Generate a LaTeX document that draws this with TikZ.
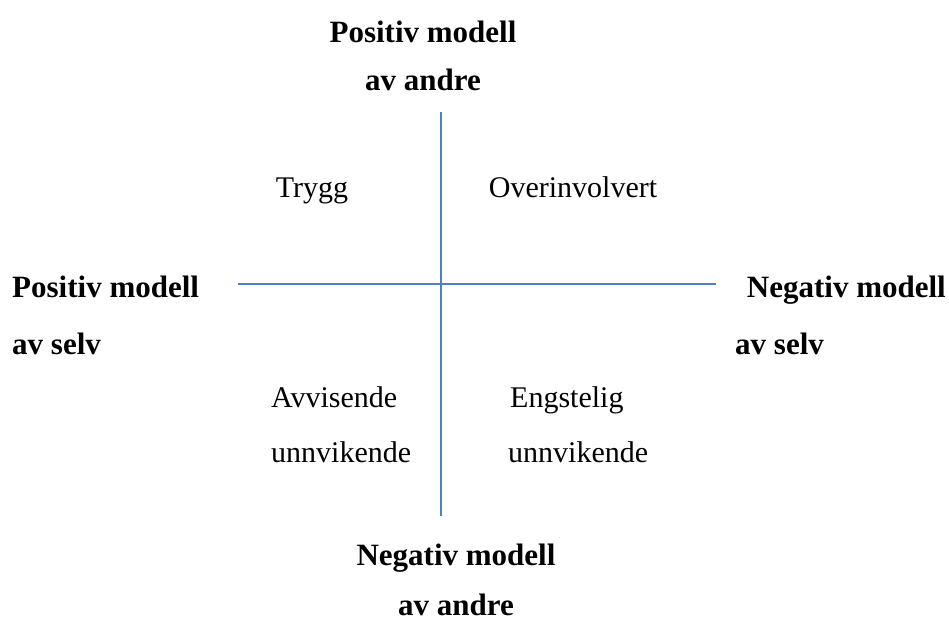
\documentclass[tikz,border=0pt]{standalone}
\usepackage{fontspec}
\setmainfont{Liberation Serif}
\usetikzlibrary{positioning}
\definecolor{axisblue}{RGB}{79,129,189}

\begin{document}
\begin{tikzpicture}[x=1pt,y=-1pt]
  \tikzset{
    axislab/.style={font=\fontsize{31}{37}\selectfont\bfseries,inner sep=0pt},
    quad/.style={font=\fontsize{30}{36}\selectfont,inner sep=0pt},
    axisline/.style={draw=axisblue,line width=1.6pt}
  }
  \useasboundingbox (0,0) rectangle (949,622);
  % axes
  \coordinate (vtop) at (441,112);
  \coordinate (vbot) at (441,516);
  \coordinate (hlft) at (238,284);
  \coordinate (hrgt) at (716,284);
  \draw[axisline] (vtop) -- (vbot);
  \draw[axisline] (hlft) -- (hrgt);
  % axis labels
  \node[axislab,anchor=base] (top1) at (423,42) {Positiv modell};
  \node[axislab,anchor=base] (top2) at (423,90) {av andre};
  \node[axislab,anchor=base west] (lft1) at (12,297) {Positiv modell};
  \node[axislab,anchor=base west] (lft2) at (12,354) {av selv};
  \node[axislab,anchor=base east] (rgt1) at (946,297) {Negativ modell};
  \node[axislab,anchor=base west] (rgt2) at (735,354) {av selv};
  \node[axislab,anchor=base] (bot1) at (456,565) {Negativ modell};
  \node[axislab,anchor=base] (bot2) at (456,615) {av andre};
  % quadrants
  \node[quad,anchor=base] (trygg) at (312,197) {Trygg};
  \node[quad,anchor=base] (over) at (573,197) {Overinvolvert};
  \node[quad,anchor=base west] (avv1) at (271,407) {Avvisende};
  \node[quad,anchor=base west] (avv2) at (271,462) {unnvikende};
  \node[quad,anchor=base west] (eng1) at (510,407) {Engstelig};
  \node[quad,anchor=base west] (eng2) at (508,462) {unnvikende};
\end{tikzpicture}
\end{document}
